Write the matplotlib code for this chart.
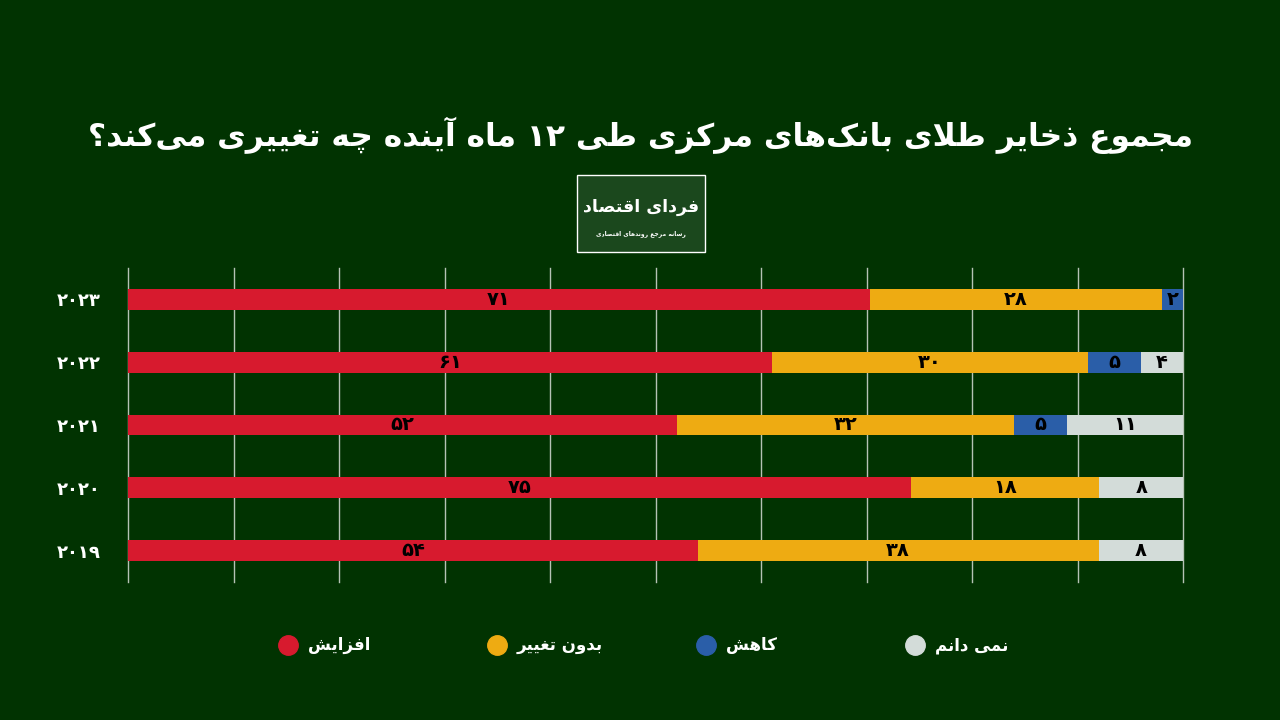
import re
import numpy as np
import matplotlib
matplotlib.use("Agg")
from matplotlib import pyplot as plt
from matplotlib import font_manager
from matplotlib.ft2font import FT2Font
from matplotlib.lines import Line2D
from matplotlib.patches import Rectangle

# data
years = ["2023", "2022", "2021", "2020", "2019"]
increase = [71, 61, 52, 75, 54]
no_change = [28, 30, 32, 18, 38]
decrease = [2, 5, 5, 0, 0]
dont_know = [0, 4, 11, 8, 8]
series_names = ["افزایش", "بدون تغییر", "کاهش", "نمی دانم"]
colors = ["#d71a2e", "#eeab12", "#2a5ea8", "#d3dcd9"]
title = "مجموع ذخایر طلای بانک\u200cهای مرکزی طی ۱۲ ماه آینده چه تغییری می\u200cکند؟"
logo_big = "فردای اقتصاد"
logo_small = "رسانه مرجع روندهای اقتصادی"

BG = "#013301"

# --- tiny arabic/persian shaper (matplotlib has no text shaping) ---
FORMS = {
    'ا': (0xFE8D, 0xFE8E, None, None), 'آ': (0xFE81, 0xFE82, None, None),
    'ب': (0xFE8F, 0xFE90, 0xFE91, 0xFE92), 'پ': (0xFB56, 0xFB57, 0xFB58, 0xFB59),
    'ت': (0xFE95, 0xFE96, 0xFE97, 0xFE98), 'ث': (0xFE99, 0xFE9A, 0xFE9B, 0xFE9C),
    'ج': (0xFE9D, 0xFE9E, 0xFE9F, 0xFEA0), 'چ': (0xFB7A, 0xFB7B, 0xFB7C, 0xFB7D),
    'ح': (0xFEA1, 0xFEA2, 0xFEA3, 0xFEA4), 'خ': (0xFEA5, 0xFEA6, 0xFEA7, 0xFEA8),
    'د': (0xFEA9, 0xFEAA, None, None), 'ذ': (0xFEAB, 0xFEAC, None, None),
    'ر': (0xFEAD, 0xFEAE, None, None), 'ز': (0xFEAF, 0xFEB0, None, None),
    'ژ': (0xFB8A, 0xFB8B, None, None),
    'س': (0xFEB1, 0xFEB2, 0xFEB3, 0xFEB4), 'ش': (0xFEB5, 0xFEB6, 0xFEB7, 0xFEB8),
    'ص': (0xFEB9, 0xFEBA, 0xFEBB, 0xFEBC), 'ض': (0xFEBD, 0xFEBE, 0xFEBF, 0xFEC0),
    'ط': (0xFEC1, 0xFEC2, 0xFEC3, 0xFEC4), 'ظ': (0xFEC5, 0xFEC6, 0xFEC7, 0xFEC8),
    'ع': (0xFEC9, 0xFECA, 0xFECB, 0xFECC), 'غ': (0xFECD, 0xFECE, 0xFECF, 0xFED0),
    'ف': (0xFED1, 0xFED2, 0xFED3, 0xFED4), 'ق': (0xFED5, 0xFED6, 0xFED7, 0xFED8),
    'ک': (0xFB8E, 0xFB8F, 0xFB90, 0xFB91), 'گ': (0xFB92, 0xFB93, 0xFB94, 0xFB95),
    'ل': (0xFEDD, 0xFEDE, 0xFEDF, 0xFEE0), 'م': (0xFEE1, 0xFEE2, 0xFEE3, 0xFEE4),
    'ن': (0xFEE5, 0xFEE6, 0xFEE7, 0xFEE8), 'و': (0xFEED, 0xFEEE, None, None),
    'ه': (0xFEE9, 0xFEEA, 0xFEEB, 0xFEEC), 'ی': (0xFBFC, 0xFBFD, 0xFBFE, 0xFBFF),
    'ئ': (0xFE89, 0xFE8A, 0xFE8B, 0xFE8C),
}
# substitutes if the font lacks the persian presentation forms
SUBST = {0xFB8E: 0xFED9, 0xFB8F: 0xFEDA, 0xFB90: 0xFEDB, 0xFB91: 0xFEDC,
         0xFB92: 0xFED9, 0xFB93: 0xFEDA, 0xFB94: 0xFEDB, 0xFB95: 0xFEDC,
         0xFBFC: 0xFEEF, 0xFBFD: 0xFEF0, 0xFBFE: 0xFEF3, 0xFBFF: 0xFEF4,
         0xFB56: 0xFE8F, 0xFB57: 0xFE90, 0xFB58: 0xFE91, 0xFB59: 0xFE92,
         0xFB7A: 0xFE9D, 0xFB7B: 0xFE9E, 0xFB7C: 0xFE9F, 0xFB7D: 0xFEA0,
         0xFB8A: 0xFEAF, 0xFB8B: 0xFEB0}


def pick_weight():
    for w in ["bold", "normal"]:
        path = font_manager.findfont(font_manager.FontProperties(family="DejaVu Sans", weight=w))
        cmap = FT2Font(path).get_charmap()
        if 0xFE8D in cmap and 0xFEE1 in cmap:
            return w, cmap
    return "normal", cmap


WEIGHT, CMAP = pick_weight()


def glyph(code):
    if code not in CMAP and code in SUBST:
        code = SUBST[code]
    return chr(code)


def dual(c):
    return c in FORMS and FORMS[c][2] is not None


def fa(text):
    chars = list(text)
    out = []
    i = 0
    while i < len(chars):
        c = chars[i]
        if c not in FORMS:
            if c != '\u200c':
                out.append(c)
            i += 1
            continue
        join_prev = i > 0 and dual(chars[i - 1])
        if c == 'ل' and i + 1 < len(chars) and chars[i + 1] in 'اآ':
            lig = (0xFEFB, 0xFEFC) if chars[i + 1] == 'ا' else (0xFEF5, 0xFEF6)
            out.append(chr(lig[1] if join_prev else lig[0]))
            i += 2
            continue
        join_next = dual(c) and i + 1 < len(chars) and chars[i + 1] in FORMS
        iso, fin, ini, med = FORMS[c]
        if join_prev and join_next:
            g = med
        elif join_prev:
            g = fin
        elif join_next:
            g = ini
        else:
            g = iso
        out.append(glyph(g))
        i += 1
    s = "".join(out)
    parts = re.findall(r'[0-9\u06F0-\u06F9]+|[^0-9\u06F0-\u06F9]+', s)
    return "".join(p if p[0].isdigit() else p[::-1] for p in reversed(parts))


def fa_num(v):
    s = str(v).translate(str.maketrans("0123456789", "۰۱۲۳۴۵۶۷۸۹"))
    if any(ord(ch) not in CMAP for ch in s):
        s = str(v)
    return s


# --- figure ---
fig = plt.figure(figsize=(12.8, 7.2), dpi=100, facecolor=BG)
plt.rcParams['font.family'] = ['DejaVu Sans']

ax = fig.add_axes([128 / 1280, 1 - 582 / 720, 1055 / 1280, 314 / 720])
ax.set_facecolor(BG)

data = np.array([increase, no_change, decrease, dont_know], dtype=float)
totals = data.sum(axis=0)
shares = data / totals * 100
ypos = np.arange(len(years))[::-1]

left = np.zeros(len(years))
for k in range(len(series_names)):
    bars = ax.barh(ypos, shares[k], left=left, height=0.33, color=colors[k], zorder=3)
    labels = [fa_num(int(v)) if v > 0 else "" for v in data[k]]
    ax.bar_label(bars, labels=labels, label_type="center", color="black",
                 fontsize=14, fontweight="bold")
    left += shares[k]

ax.set_xlim(0, 100)
ax.set_ylim(-0.5, len(years) - 0.5)
ax.set_xticks(np.arange(0, 101, 10))
ax.xaxis.grid(True, color="#b5c2b5", linewidth=1, zorder=0)
for gl in ax.get_xgridlines():
    gl.set_clip_on(False)
ax.tick_params(axis="x", length=0, labelbottom=False)
ax.set_yticks(ypos)
ax.set_yticklabels([fa_num(y) for y in years], color="white", fontsize=13, fontweight="bold")
ax.tick_params(axis="y", length=0, pad=20)
for sp in ax.spines.values():
    sp.set_visible(False)

# title
fig.text(0.5, 1 - 135 / 720, fa(title), ha="center", va="center", color="white",
         fontsize=22.5, fontweight=WEIGHT)

# logo
fig.add_artist(Rectangle((577 / 1280, 1 - 252 / 720), 128 / 1280, 77 / 720,
                         transform=fig.transFigure, facecolor="#1b481d",
                         edgecolor="white", linewidth=1))
fig.text(641 / 1280, 1 - 207 / 720, fa(logo_big), ha="center", va="center",
         color="white", fontsize=12.5, fontweight=WEIGHT)
fig.text(641 / 1280, 1 - 234 / 720, fa(logo_small), ha="center", va="center",
         color="white", fontsize=4.3, fontweight=WEIGHT)

# legend
for k, name in enumerate(series_names):
    x = (288 + 209 * k) / 1280
    y = 1 - 645 / 720
    fig.add_artist(Line2D([x], [y], marker="o", markersize=14, color=colors[k],
                          linestyle="none", transform=fig.transFigure))
    fig.text(x + 20 / 1280, y, fa(name), ha="left", va="center", color="white",
             fontsize=12, fontweight=WEIGHT)

fig.savefig("out.png", dpi=100, facecolor=BG)
